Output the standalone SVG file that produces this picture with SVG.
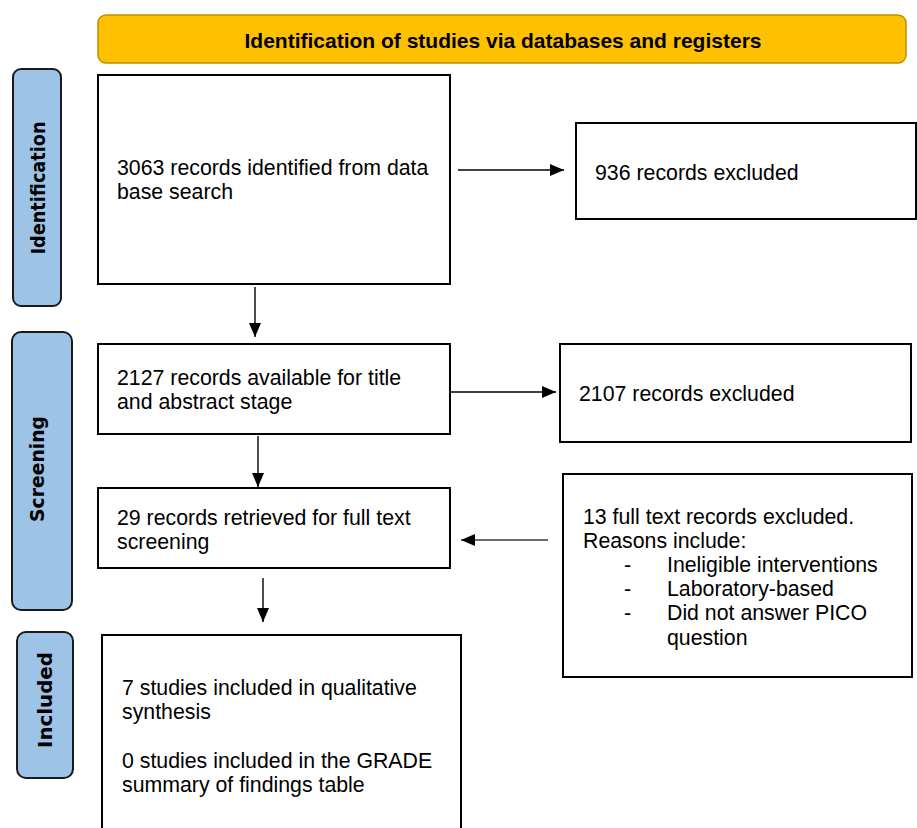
<svg xmlns="http://www.w3.org/2000/svg" width="917" height="828" viewBox="0 0 917 828">
<defs>
<style>
.box{fill:#fff;stroke:#000;stroke-width:2}
.hdr{fill:#FFC000;stroke:#BF9000;stroke-width:1.5}
.side{fill:#9DC3E6;stroke:#1a1a1a;stroke-width:2}
.t{font-family:"Liberation Sans",Arial,sans-serif;font-size:21.3px;fill:#000}
.ht{font-family:"Liberation Sans",Arial,sans-serif;font-size:21px;font-weight:bold;fill:#000}
.st{font-family:"DejaVu Sans",Verdana,sans-serif;font-size:19px;font-weight:bold;fill:#000}
.con{fill:none;stroke:#000;stroke-width:1.4}
.con2{fill:none;stroke:#6b6b6b;stroke-width:2}
</style>
<marker id="ah" markerWidth="14" markerHeight="12" refX="14" refY="6" orient="auto" markerUnits="userSpaceOnUse">
<path d="M0,0 L14,6 L0,12 Z" fill="#000"/>
</marker>
</defs>
<rect width="917" height="828" fill="#fff"/>

<g id="header">
<rect class="hdr" x="98" y="15" width="808" height="48" rx="8"/>
<text class="ht" x="503" y="48" text-anchor="middle">Identification of studies via databases and registers</text>
</g>

<g id="lbl-identification">
<rect class="side" x="13" y="69" width="48" height="237" rx="8"/>
<text class="st" transform="translate(45,188) rotate(-90)" text-anchor="middle" textLength="133" lengthAdjust="spacingAndGlyphs">Identification</text>
</g>
<g id="lbl-screening">
<rect class="side" x="12" y="332" width="60" height="278" rx="9"/>
<text class="st" transform="translate(44,469) rotate(-90)" text-anchor="middle" textLength="106" lengthAdjust="spacingAndGlyphs">Screening</text>
</g>
<g id="lbl-included">
<rect class="side" x="17" y="632" width="56" height="146" rx="9"/>
<text class="st" transform="translate(52,700) rotate(-90)" text-anchor="middle" textLength="96" lengthAdjust="spacingAndGlyphs">Included</text>
</g>

<g id="n-identified">
<rect class="box" x="98" y="75" width="352" height="209"/>
<text class="t" x="117" y="175">3063 records identified from data</text>
<text class="t" x="117" y="199">base search</text>
</g>
<g id="n-excl1">
<rect class="box" x="576" y="123" width="340" height="96"/>
<text class="t" x="595" y="180">936 records excluded</text>
</g>
<g id="n-title">
<rect class="box" x="98" y="344" width="352" height="90"/>
<text class="t" x="117" y="385">2127 records available for title</text>
<text class="t" x="117" y="409">and abstract stage</text>
</g>
<g id="n-excl2">
<rect class="box" x="560" y="344" width="351" height="98"/>
<text class="t" x="579" y="401">2107 records excluded</text>
</g>
<g id="n-fulltext">
<rect class="box" x="98" y="488" width="352" height="80"/>
<text class="t" x="117" y="525">29 records retrieved for full text</text>
<text class="t" x="117" y="549">screening</text>
</g>
<g id="n-excl3">
<rect class="box" x="563" y="474" width="349" height="203"/>
<text class="t" x="583" y="524">13 full text records excluded.</text>
<text class="t" x="583" y="548">Reasons include:</text>
<text class="t" x="624" y="572">-</text>
<text class="t" x="667" y="572">Ineligible interventions</text>
<text class="t" x="624" y="596">-</text>
<text class="t" x="667" y="596">Laboratory-based</text>
<text class="t" x="624" y="620">-</text>
<text class="t" x="667" y="620">Did not answer PICO</text>
<text class="t" x="667" y="645">question</text>
</g>
<g id="n-included">
<rect class="box" x="102" y="635" width="359" height="210"/>
<text class="t" x="122" y="695">7 studies included in qualitative</text>
<text class="t" x="122" y="719">synthesis</text>
<text class="t" x="122" y="768">0 studies included in the GRADE</text>
<text class="t" x="122" y="792">summary of findings table</text>
</g>

<g id="connectors">
<path class="con" d="M458,170 H564" marker-end="url(#ah)"/>
<path class="con" d="M255,287 V337" marker-end="url(#ah)"/>
<path class="con" d="M450,392 H556" marker-end="url(#ah)"/>
<path class="con" d="M258,436 V487" marker-end="url(#ah)"/>
<path class="con2" d="M548,540 H461" marker-end="url(#ah)"/>
<path class="con" d="M263,578 V622" marker-end="url(#ah)"/>
</g>
</svg>
